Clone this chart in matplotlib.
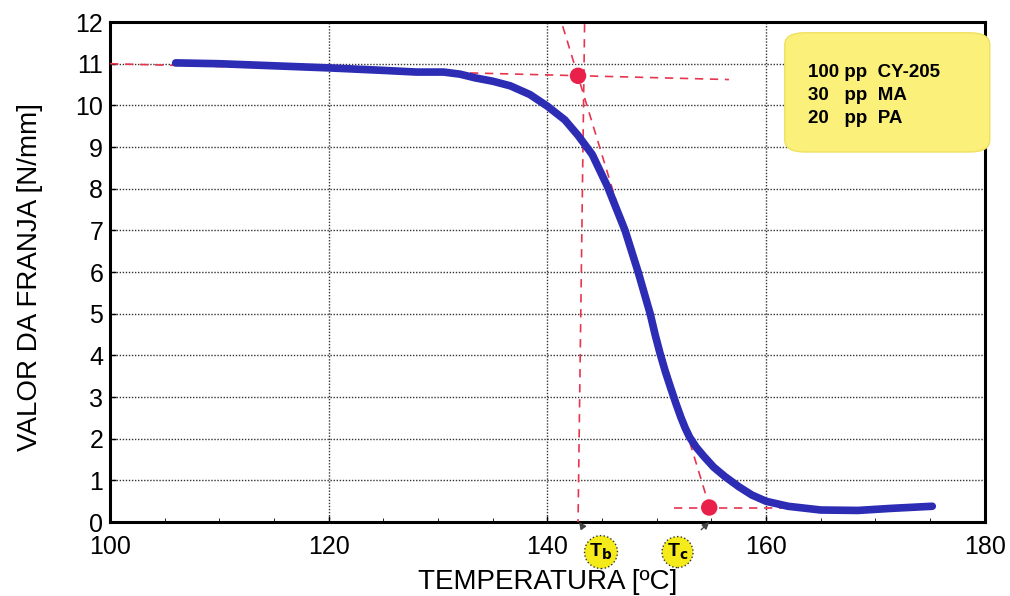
import matplotlib
matplotlib.use("Agg")
import matplotlib.pyplot as plt
from matplotlib.patches import FancyBboxPatch
import numpy as np

plt.rcParams['font.family'] = ['Liberation Sans', 'DejaVu Sans']

# curve data
temp = [106, 110, 115, 120, 125, 128, 130.5, 132, 133.4, 135, 136.6, 138.4, 140, 141.6, 142.8,
        144.1, 145.5, 147.1, 148.3, 149.4, 149.85, 150.3, 150.8, 151.3, 151.75, 152.2, 152.6,
        153.0, 153.6, 154.3, 155.2, 156.2, 157.5, 158.7, 160, 162, 165, 168.4, 171.5, 175.2]
valor = [11.02, 11.0, 10.95, 10.9, 10.84, 10.8, 10.8, 10.75, 10.66, 10.58, 10.47, 10.26, 9.98, 9.65, 9.28,
         8.82, 8.05, 7.0, 6.0, 5.0, 4.5, 4.05, 3.6, 3.2, 2.85, 2.52, 2.26,
         2.04, 1.8, 1.58, 1.32, 1.1, 0.85, 0.65, 0.5, 0.38, 0.29, 0.28, 0.33, 0.38]

tb_point = (142.8, 10.71)
tc_point = (154.8, 0.35)
# construction lines
h_top_x = [100, 156.6]; h_top_y = [11.0, 10.62]
h_bot_x = [151.6, 163.0]; h_bot_y = [0.35, 0.35]
tang_x = [141.4, 154.9]; tang_y = [11.9, 0.3]
vert_x = [143.4, 142.8]; vert_y = [11.95, 0.0]

legend_lines = ["100 pp  CY-205", "30   pp  MA", "20   pp  PA"]

fig = plt.figure(figsize=(10.1, 5.96), dpi=100)
ax = fig.add_axes([0.109, 0.124, 0.866, 0.839])
ax.set_xlim(100, 180)
ax.set_ylim(0, 12)
ax.set_xticks([100, 120, 140, 160, 180])
ax.set_xticks(np.arange(100, 181, 5), minor=True)
ax.set_yticks(range(0, 13))
ax.tick_params(axis='both', labelsize=18, direction='in', length=4, width=1)
ax.tick_params(axis='x', pad=9)
ax.tick_params(axis='y', pad=5)
ax.tick_params(axis='x', which='minor', direction='in', length=3)
ax.grid(True, which='major', linestyle=(0, (1, 1.2)), color='#333333', linewidth=1.0)
for s in ['left', 'bottom', 'top', 'right']:
    ax.spines[s].set_linewidth(2.2)

dash = (0, (5, 4))
red = '#e8354f'
ax.plot(h_top_x, h_top_y, color=red, linestyle=dash, linewidth=1.2, zorder=3)
ax.plot(h_bot_x, h_bot_y, color=red, linestyle=dash, linewidth=1.2, zorder=3)
ax.plot(tang_x, tang_y, color=red, linestyle=dash, linewidth=1.2, zorder=3)
ax.plot(vert_x, vert_y, color=red, linestyle=dash, linewidth=1.2, zorder=3)

ax.plot(temp, valor, color='#2c2cb4', linewidth=5.5, solid_capstyle='round',
        solid_joinstyle='round', zorder=4)

ax.scatter([tb_point[0], tc_point[0]], [tb_point[1], tc_point[1]], s=140,
           color='#e8204a', zorder=5, edgecolors='none')

ax.set_xlabel("TEMPERATURA [ºC]", fontsize=20)
ax.xaxis.set_label_coords(0.5, -0.12)
ax.xaxis.label.set_va('center')
ax.set_ylabel("VALOR DA FRANJA [N/mm]", fontsize=20)
ax.yaxis.set_label_coords(-0.092, 0.49)
ax.yaxis.label.set_va('center')

# Tb / Tc markers below axis
for lab, xt, xy in [("T$_\\mathbf{b}$", 144.9, 142.9), ("T$_\\mathbf{c}$", 151.9, 154.8)]:
    ax.annotate(lab, xy=(xy, 0), xytext=(xt, -0.72), textcoords='data',
                fontsize=14, fontweight='bold', ha='center', va='center',
                bbox=dict(boxstyle='circle,pad=0.25', fc='#f5eb1a', ec='#333333', ls=':'),
                arrowprops=dict(arrowstyle='-|>', color='#444444', lw=1, shrinkA=12, shrinkB=0,
                                mutation_scale=10),
                annotation_clip=False, zorder=8)

# legend box
box = FancyBboxPatch((0.777, 0.745), 0.203, 0.2, transform=fig.transFigure,
                     boxstyle='round,pad=0,rounding_size=0.02', fc='#fbf07a', ec='#f0e060',
                     lw=1, zorder=6)
fig.patches.append(box)
for i, t in enumerate(legend_lines):
    fig.text(0.80, 0.879 - i * 0.0385, t, fontsize=13.5, fontweight='bold', va='center',
             zorder=7)

fig.savefig("out.png", dpi=100)
